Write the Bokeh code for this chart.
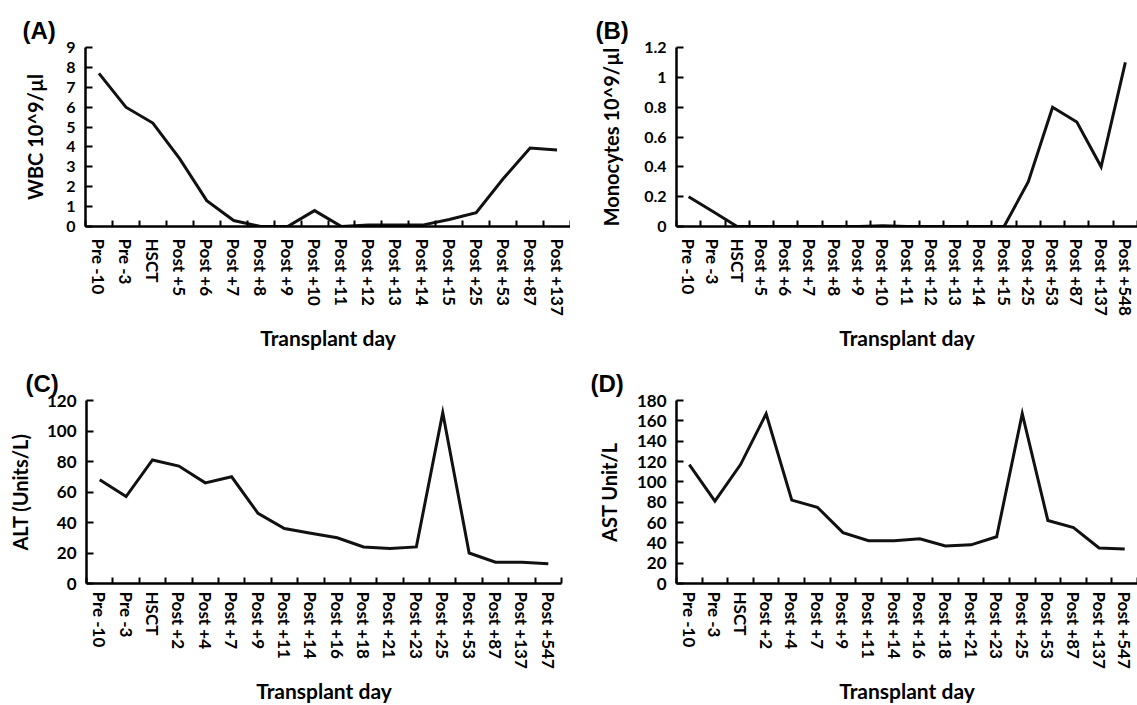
from bokeh.plotting import figure
from bokeh.layouts import column, row
from bokeh.models import Range1d, FixedTicker
from bokeh.embed import file_html
from bokeh.resources import INLINE

# ---------------- data ----------------
wbc_days = ["Pre -10", "Pre -3", "HSCT", "Post +5", "Post +6", "Post +7", "Post +8",
            "Post +9", "Post +10", "Post +11", "Post +12", "Post +13", "Post +14",
            "Post +15", "Post +25", "Post +53", "Post +87", "Post +137"]
wbc = [7.7, 6.0, 5.2, 3.4, 1.3, 0.3, 0.0, 0.0, 0.8, 0.0, 0.07, 0.07, 0.07, 0.35,
       0.7, 2.4, 3.95, 3.85]

mono_days = ["Pre -10", "Pre -3", "HSCT", "Post +5", "Post +6", "Post +7", "Post +8",
             "Post +9", "Post +10", "Post +11", "Post +12", "Post +13", "Post +14",
             "Post +15", "Post +25", "Post +53", "Post +87", "Post +137", "Post +548"]
mono = [0.2, 0.1, 0.0, 0.0, 0.0, 0.0, 0.0, 0.0, 0.005, 0.0, 0.0, 0.0, 0.0, 0.0,
        0.3, 0.8, 0.7, 0.4, 1.1]

liver_days = ["Pre -10", "Pre -3", "HSCT", "Post +2", "Post +4", "Post +7", "Post +9",
              "Post +11", "Post +14", "Post +16", "Post +18", "Post +21", "Post +23",
              "Post +25", "Post +53", "Post +87", "Post +137", "Post +547"]
alt = [68, 57, 81, 77, 66, 70, 46, 36, 33, 30, 24, 23, 24, 112, 20, 14, 14, 13]
ast = [117, 81, 117, 167, 82, 75, 50, 42, 42, 44, 37, 38, 46, 167, 62, 55, 35, 34]

wbc_ticks = [0, 1, 2, 3, 4, 5, 6, 7, 8, 9]
mono_ticks = [0, 0.2, 0.4, 0.6, 0.8, 1, 1.2]
alt_ticks = [0, 20, 40, 60, 80, 100, 120]
ast_ticks = [0, 20, 40, 60, 80, 100, 120, 140, 160, 180]

FONT = "Lato"


def panel(tag, cats, vals, ylabel, yticks, width, height, bl, bt, bb, br, tag_offset,
          ytick_size, ytitle_standoff, xlab_standoff, xtitle_standoff):
    n = len(cats)
    p = figure(width=width, height=height, output_backend="svg", toolbar_location=None,
               x_range=Range1d(0, n), y_range=Range1d(yticks[0], yticks[-1]),
               min_border_left=bl, min_border_top=bt, min_border_bottom=bb,
               min_border_right=br)
    p.outline_line_color = None
    p.xgrid.visible = False
    p.ygrid.visible = False
    p.background_fill_color = "white"
    p.border_fill_color = "white"

    xs = [i + 0.5 for i in range(n)]
    p.line(xs, vals, line_width=3, line_color="#111111", line_join="miter")

    # x axis: labels at category centres, ticks at category boundaries
    xa = p.xaxis[0]
    xa.ticker = FixedTicker(ticks=xs, minor_ticks=list(range(n + 1)))
    xa.major_label_overrides = {x: c for x, c in zip(xs, cats)}
    xa.major_label_orientation = "vertical"
    xa.major_tick_in = 0
    xa.major_tick_out = 0
    xa.minor_tick_in = 6
    xa.minor_tick_out = 0
    xa.minor_tick_line_width = 2
    xa.minor_tick_line_color = "black"
    xa.axis_line_width = 2.5
    xa.axis_line_color = "black"
    xa.major_label_text_font = FONT
    xa.major_label_text_font_style = "bold"
    xa.major_label_text_font_size = "17px"
    xa.major_label_text_color = "black"
    xa.major_label_standoff = xlab_standoff
    xa.axis_label = "Transplant day"
    xa.axis_label_text_font = FONT
    xa.axis_label_text_font_style = "bold"
    xa.axis_label_text_font_size = "21px"
    xa.axis_label_text_color = "black"
    xa.axis_label_standoff = xtitle_standoff

    ya = p.yaxis[0]
    ya.ticker = FixedTicker(ticks=yticks)
    ya.major_label_overrides = {t: ("%g" % t) for t in yticks}
    ya.major_tick_in = 7
    ya.major_tick_out = 0
    ya.major_tick_line_width = 2
    ya.major_tick_line_color = "black"
    ya.minor_tick_line_color = None
    ya.axis_line_width = 2.5
    ya.axis_line_color = "black"
    ya.major_label_text_font = FONT
    ya.major_label_text_font_style = "bold"
    ya.major_label_text_font_size = ytick_size
    ya.major_label_text_color = "black"
    ya.major_label_standoff = 10
    ya.axis_label = ylabel
    ya.axis_label_text_font = FONT
    ya.axis_label_text_font_style = "bold"
    ya.axis_label_text_font_size = "20px"
    ya.axis_label_text_color = "black"
    ya.axis_label_standoff = ytitle_standoff

    p.title.text = tag
    p.title.align = "left"
    p.title.offset = tag_offset
    p.title.standoff = 8
    p.title.text_font = "Liberation Sans"
    p.title.text_font_style = "bold"
    p.title.text_font_size = "24px"
    p.title.text_color = "black"
    return p


pA = panel("(A)", wbc_days, wbc, "WBC 10^9/µl", wbc_ticks,
           570, 352, 85, 47, 122, 0, -63, "16px", 16, 12, 6)
pB = panel("(B)", mono_days, mono, "Monocytes 10^9/µl", mono_ticks,
           567, 352, 106, 47, 122, 0, -81, "16px", 18, 12, 6)
pC = panel("(C)", liver_days, alt, "ALT (Units/L)", alt_ticks,
           570, 353, 86, 48, 120, 9, -61, "17px", 12, 8, 6)
pD = panel("(D)", liver_days, ast, "AST Unit/L", ast_ticks,
           567, 353, 106, 48, 120, 0, -86, "17px", 13, 8, 6)

layout = column(row(pA, pB), row(pC, pD))
open("out.html", "w").write(file_html(layout, INLINE))
